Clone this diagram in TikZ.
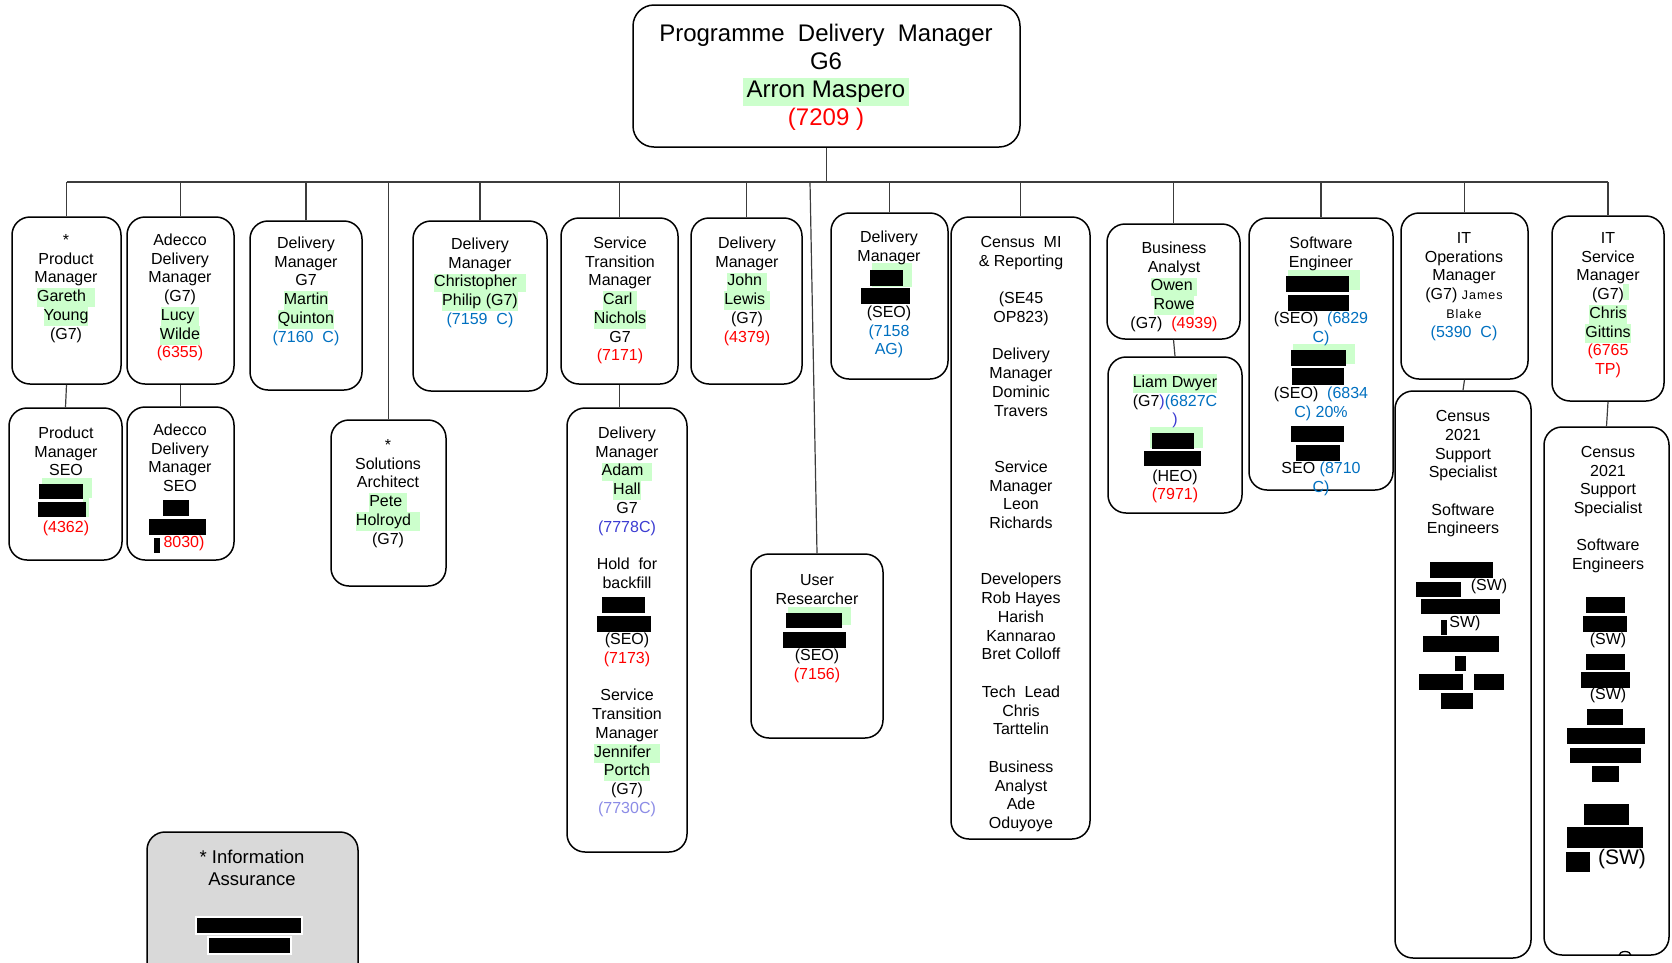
\documentclass[tikz,border=0pt]{standalone}
\usepackage{fontspec}
\setmainfont{Liberation Sans}
\definecolor{hlg}{RGB}{204,255,204}
\definecolor{cblue}{RGB}{0,112,192}
\definecolor{cviol}{RGB}{60,60,210}
\definecolor{clav}{RGB}{140,140,230}
\definecolor{cred}{RGB}{255,0,0}
\definecolor{iagray}{RGB}{217,217,217}
\definecolor{lineg}{RGB}{60,60,60}
\newcommand\hl[1]{{\fboxsep=0pt\colorbox{hlg}{\strut#1}}}
\newcommand\R[1]{\textcolor{cred}{#1}}
\newcommand\B[1]{\textcolor{cblue}{#1}}
\newcommand\fsA{\fontsize{16}{18.75}\selectfont\lineskiplimit=-\maxdimen}
\newcommand\fsC{\fontsize{16}{18.65}\selectfont\lineskiplimit=-\maxdimen}
\newcommand\fsT{\fontsize{24}{28}\selectfont\lineskiplimit=-\maxdimen}
\newcommand\fsI{\fontsize{18.5}{22}\selectfont\lineskiplimit=-\maxdimen}
\newcommand\fsS{\fontsize{12.5}{18.6}\selectfont\addfontfeature{LetterSpace=8}}
\newcommand\mkbox[6][]{\node[obox,#1, minimum width={(#5)-(#3)}, minimum height={(#6)-(#4)}] (#2) at ({((#3)+(#5))/2},{((#4)+(#6))/2}) {};}
\newcommand\rbar[4]{\fill[black] (#1,#2) rectangle (#3,#4);}
\newcommand\gbar[4]{\fill[hlg] (#1,#2) rectangle (#3,#4);}
\tikzset{
  obox/.style={draw=black, line width=1.5pt, rounded corners=18pt, inner sep=0pt, fill=white},
  txt/.style={anchor=north, align=center, inner sep=0pt, font=\fsA},
  conn/.style={draw=lineg, line width=1.2pt},
  swt/.style={inner sep=0pt, font=\fsA},
}
\begin{document}
\begin{tikzpicture}[x=1pt,y=-1pt]
\useasboundingbox (0,0) rectangle (1672,962);
\clip (0,0) rectangle (1672,962);
% boxes
\mkbox[rounded corners=21pt]{top}{633}{5}{1020}{147}
\mkbox{pm}{12}{217}{121}{384}
\mkbox{ad}{127}{217}{234}{384}
\mkbox{mq}{250}{221}{362}{390}
\mkbox{sa}{331}{420}{446}{586}
\mkbox{cp}{413}{221}{547}{391}
\mkbox{cn}{561}{218}{678}{384}
\mkbox{jl}{691}{218}{802}{384}
\mkbox{dm}{831}{213}{948}{379}
\mkbox{mi}{951}{217}{1090}{839}
\mkbox{or}{1107}{224}{1240}{339}
\mkbox{se}{1249}{218}{1393}{490}
\mkbox{it}{1401}{213}{1528}{379}
\mkbox{is}{1552}{216}{1664}{401}
\mkbox{pms}{9}{408}{122}{560}
\mkbox{ads}{127}{407}{234}{560}
\mkbox{ah}{567}{408}{687}{852}
\mkbox{ur}{751}{554}{883}{738}
\mkbox{ld}{1108}{357}{1242}{513}
\mkbox{cl}{1395}{391}{1531}{958}
\mkbox{cr}{1544}{427}{1669}{955}
\mkbox[fill=iagray]{ia}{147}{832}{358}{1010}
% connectors
\coordinate (busL) at (66.5,182);
\coordinate (busR) at (1608,182);
\coordinate (busU) at (810,182);
\draw[conn] (busL) -- (busR);
\draw[conn] (top.south) -- (top.south |- busL);
\foreach \n in {pm,ad,mq,sa,cp,cn,jl,dm,mi,or,se,it,is}
  \draw[conn] (\n.north) -- (\n.north |- busL);
\draw[conn] (busU) -- (ur.north);
\draw[conn] (pm.south) -- (pms.north);
\draw[conn] (ad.south) -- (ads.north);
\draw[conn] (cn.south) -- (cn.south |- ah.north);
\draw[conn] (or.south) -- (ld.north);
\draw[conn] (it.south) -- (cl.north);
\draw[conn] (is.south) -- (cr.north);
\draw[line width=1.3pt] (1619,955.5) arc (180:360:6 and 4);
% green behind redactions
\gbar{872}{263}{912}{287}
\gbar{42}{478}{92}{498}
\gbar{83}{497}{89}{517}
\gbar{788}{607}{851}{625}
\gbar{1150}{427}{1203}{448}
\gbar{1288}{270}{1360}{290}
\gbar{1293}{344}{1355}{364}
\gbar{1623}{284}{1629}{300}
% texts
\node[txt, font=\fsT] (top-t) at (826,22) {\strut Programme\ \ Delivery\ \ Manager\\G6\\\hl{\,Arron Maspero\,}\\\R{(7209 )}};
\node[txt] (pm-t) at (66,232) {\strut*\\Product\\Manager\\\hl{Gareth\ \ }\\\hl{Young}\\(G7)};
\node[txt] (ad-t) at (180,232) {\strut Adecco\\Delivery\\Manager\\(G7)\\\hl{Lucy\ }\\\hl{Wilde}\\\R{(6355)}};
\node[txt] (mq-t) at (306,235) {\strut Delivery\\Manager\\G7\\\hl{Martin}\\\hl{Quinton}\\\B{(7160\ \ C)}};
\node[txt] (sa-t) at (388,437) {\strut*\\Solutions\\Architect\\\hl{Pete\ }\\\hl{Holroyd\ \ }\\(G7)};
\node[txt] (cp-t) at (480,236) {\strut Delivery\\Manager\\\hl{Christopher\ \ }\\\hl{Philip (G7)}\\\B{(7159\ \ C)}};
\node[txt] (cn-t) at (620,235) {\strut Service\\Transition\\Manager\\\hl{Carl\ }\\\hl{Nichols}\\G7\\\R{(7171)}};
\node[txt] (jl-t) at (747,235) {\strut Delivery\\Manager\\\hl{John\ }\\\hl{Lewis\ }\\(G7)\\\R{(4379)}};
\node[txt] (dm-t) at (889,229) {\strut Delivery\\Manager\\ \\ \\(SEO)\\\B{(7158}\\\B{AG)}};
\node[txt] (mi-t) at (1021,234) {\strut Census\ \ MI\\\& Reporting\\ \\(SE45\\OP823)\\ \\Delivery\\Manager\\Dominic\\Travers\\ \\ \\Service\\Manager\\Leon\\Richards\\ \\ \\Developers\\Rob Hayes\\Harish\\Kannarao\\Bret Colloff\\ \\Tech\ \ Lead\\Chris\\Tarttelin\\ \\Business\\Analyst\\Ade\\Oduyoye};
\node[txt] (or-t) at (1174,240) {\strut Business\\Analyst\\\hl{Owen\ }\\\hl{Rowe}\\(G7)\ \ \R{(4939)}};
\node[txt] (ld-t) at (1175,374) {\strut\hl{Liam Dwyer}\\(G7\textcolor{cviol}{)}\B{(6827C}\\\textcolor{cviol}{)}\\ \\ \\(HEO)\\\R{(7971)}};
\node[txt] (se-t) at (1321,235) {\strut Software\\Engineer\\ \\ \\(SEO)\ \ \B{(6829}\\\B{C)}\\ \\ \\(SEO)\ \ \B{(6834}\\\B{C)\ 20\%}\\ \\ \\SEO\ \B{(8710}\\\B{C)}};
\node[txt] (it-t) at (1464,230) {\strut IT\\Operations\\Manager\\(G7)\ {\fsS James}\\{\fsS Blake}\\\B{(5390\ \ C)}};
\node[txt] (is-t) at (1608,230) {\strut IT\\Service\\Manager\\(G7)\\\hl{Chris}\\\hl{Gittins}\\\R{(6765}\\\R{TP)}};
\node[txt] (pms-t) at (66,425) {\strut Product\\Manager\\SEO\\ \\ \\\R{(4362)}};
\node[txt] (ads-t) at (180,422) {\strut Adecco\\Delivery\\Manager\\SEO\\ \\ \\\hspace*{8pt}\R{8030)}};
\node[txt] (ah-t) at (627,425) {\strut Delivery\\Manager\\\hl{Adam\ \ }\\\hl{Hall}\\G7\\\textcolor{cviol}{(7778C)}\\ \\Hold\ \ for\\backfill\\ \\ \\(SEO)\\\R{(7173)}\\ \\Service\\Transition\\Manager\\\hl{Jennifer\ \ }\\\hl{Portch}\\(G7)\\\textcolor{clav}{(7730C)}};
\node[txt] (ur-t) at (817,572) {\strut User\\Researcher\\ \\ \\(SEO)\\\R{(7156)}};
\node[txt, font=\fsC] (cl-t) at (1463,408.7) {\strut Census\\2021\\Support\\Specialist\\ \\Software\\Engineers};
\node[txt, font=\fsC] (cr-t) at (1608,444.3) {\strut Census\\2021\\Support\\Specialist\\ \\Software\\Engineers};
\node[txt, font=\fsI] (ia-t) at (252,848) {\strut*\ Information\\Assurance};
\node[swt] (cl-sw1) at (1489,586) {(SW)};
\node[swt] (cl-sw2) at (1465,623) {SW)};
\node[swt] (cr-sw1) at (1608,640) {(SW)};
\node[swt] (cr-sw2) at (1608,695) {(SW)};
\node[swt, font=\fontsize{21}{24}\selectfont] (cr-sw3) at (1622,859) {(SW)};
% redactions
\rbar{870}{270}{903}{286}
\rbar{861}{288}{910}{304}
\rbar{39}{484}{83}{499}
\rbar{38}{502}{86}{517}
\rbar{163}{500}{189}{516}
\rbar{149}{519}{206}{535}
\rbar{154}{538}{160}{553}
\rbar{602}{597}{645}{613}
\rbar{597}{616}{651}{632}
\rbar{786}{613}{842}{628}
\rbar{783}{632}{846}{648}
\rbar{1152}{433}{1194}{449}
\rbar{1144}{451}{1201}{466}
\rbar{1286}{276}{1349}{292}
\rbar{1288}{295}{1349}{311}
\rbar{1291}{350}{1346}{366}
\rbar{1292}{368}{1344}{385}
\rbar{1291}{426}{1344}{442}
\rbar{1296}{445}{1340}{461}
% census left
\rbar{1430}{562}{1493}{577.5}
\rbar{1416}{581.5}{1461}{596.5}
\rbar{1421}{598.5}{1500}{614}
\rbar{1441}{619.5}{1447}{635}
\rbar{1423}{636}{1499}{652}
\rbar{1455}{655.5}{1466}{670.5}
\rbar{1419}{674}{1463}{690}
\rbar{1474}{674}{1504}{690}
\rbar{1441}{693}{1473}{708.5}
% census right
\rbar{1586}{597}{1625}{613}
\rbar{1583}{616}{1627}{632}
\rbar{1586}{654}{1625}{669.5}
\rbar{1581}{672}{1630}{688}
\rbar{1587}{709}{1623}{724.5}
\rbar{1567}{728}{1645}{744}
\rbar{1570}{747.5}{1641}{763}
\rbar{1592}{766}{1619}{781.5}
\rbar{1584}{804}{1629}{825}
\rbar{1567}{827}{1643}{848}
\rbar{1566}{851.5}{1590}{872}
\filldraw[fill=black, draw=white, line width=2pt] (196,917) rectangle (302,934);
\filldraw[fill=black, draw=white, line width=2pt] (208,937) rectangle (291,954);
\end{tikzpicture}
\end{document}
